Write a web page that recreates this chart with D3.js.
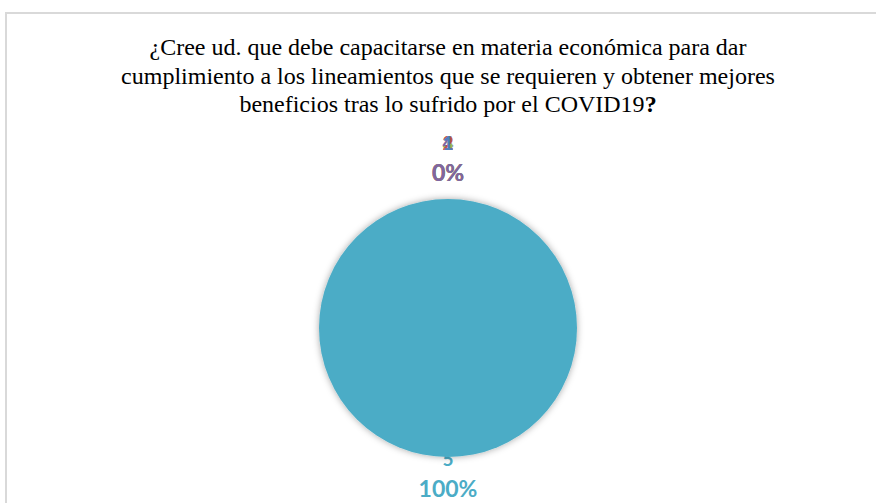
<!DOCTYPE html>
<html><head><meta charset="utf-8">
<script src="https://cdn.jsdelivr.net/npm/d3@7"></script>
<style>html,body{margin:0;padding:0;background:#fff;}svg{display:block;}</style>
</head><body>
<svg id="chart" width="876" height="503"></svg>
<script>
const categories = ["1", "2", "3", "4", "5"];
const values = [0, 0, 0, 0, 5];
const colors = ["#4f81bd", "#c0504d", "#9bbb59", "#8064a2", "#4bacc6"];
const titleLines = [
  "¿Cree ud. que debe capacitarse en materia económica para dar",
  "cumplimiento a los lineamientos que se requieren y obtener mejores",
  "beneficios tras lo sufrido por el COVID19"
];

const W = 876, H = 503;
const svg = d3.select("#chart");
const defs = svg.append("defs");
const f = defs.append("filter").attr("id", "shadow").attr("x", "-20%").attr("y", "-20%").attr("width", "140%").attr("height", "140%");
f.append("feDropShadow").attr("dx", 0).attr("dy", 0).attr("stdDeviation", 3.5).attr("flood-color", "#000").attr("flood-opacity", 0.35);

// chart frame
svg.append("path").attr("d", `M6,${H} L6,13 L${W},13`).attr("fill", "none").attr("stroke", "#d9d9d9").attr("stroke-width", 2);

// title
const title = svg.append("text").attr("text-anchor", "middle")
  .attr("font-family", "'Liberation Serif','Times New Roman',serif").attr("font-size", 24).attr("fill", "#000");
titleLines.forEach((t, i) => {
  title.append("tspan").attr("x", 448).attr("y", 55 + i * 28.7).text(t);
  if (i === titleLines.length - 1) title.append("tspan").attr("font-weight", "bold").text("?");
});

const cx = 448, cy = 328, r = 129;
const total = d3.sum(values);
const pie = d3.pie().sort(null).value(d => d.v);
const arcs = pie(categories.map((c, i) => ({c, v: values[i], col: colors[i]})));
const arc = d3.arc().innerRadius(0).outerRadius(r);

const g = svg.append("g").attr("transform", `translate(${cx},${cy})`);

function labelPos(d) {
  const a = (d.startAngle + d.endAngle) / 2;
  const top = Math.cos(a) > 0;
  const R = top ? 146 : 131;
  const x = Math.sin(a) * R, y = -Math.cos(a) * R;
  return {x, y1: top ? y - 32 : y + 7};
}

// labels (drawn before the pie, as in the reference where the pie overlaps the "5")
const lab = g.append("g").attr("font-family", "Lato,'Open Sans',sans-serif").attr("font-weight", "bold").attr("text-anchor", "middle");
arcs.slice().reverse().forEach(d => {
  const p = labelPos(d);
  lab.append("text").attr("x", p.x).attr("y", p.y1).attr("font-size", 19).attr("fill", d.data.col).text(d.data.c);
});
arcs.forEach(d => {
  const p = labelPos(d);
  const pct = d3.format(".0%")(d.data.v / total);
  lab.append("text").attr("x", p.x).attr("y", p.y1 + 31).attr("font-size", 23).attr("fill", d.data.col).text(pct);
});

g.selectAll("path.slice").data(arcs.filter(d => d.data.v > 0)).join("path")
  .attr("class", "slice").attr("d", arc).attr("fill", d => d.data.col)
  .attr("filter", "url(#shadow)");
</script>
</body></html>
